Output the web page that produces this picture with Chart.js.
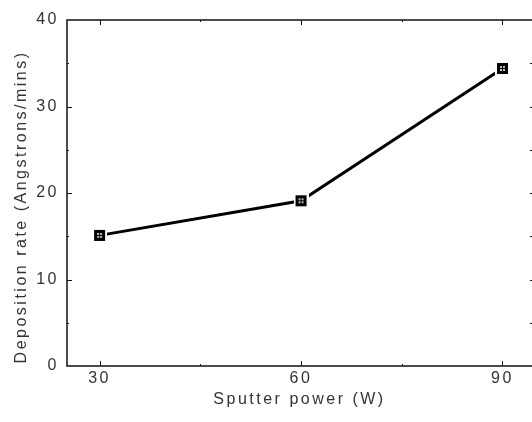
<!DOCTYPE html>
<html>
<head>
<meta charset="utf-8">
<script src="https://cdn.jsdelivr.net/npm/chart.js@4.4.0/dist/chart.umd.min.js"></script>
<style>
  html, body { margin: 0; padding: 0; background: #fff; }
  #wrap { width: 532px; height: 422px; }
</style>
</head>
<body>
<div id="wrap"><canvas id="c" width="532" height="422"></canvas></div>
<script>
// data
const powers = [30, 60, 90];
const rates = [15.1, 19.1, 34.4];
const xTicks = [30, 60, 90];
const xMinor = [45, 75];
const yTicks = [0, 10, 20, 30, 40];
const yMinor = [5, 15, 25, 35];

// square marker: black box, small white dots, white halo around it
function makeMarker() {
    const m = document.createElement('canvas');
    m.width = 15; m.height = 15;
    const g = m.getContext('2d');
    g.fillStyle = '#fff';
    g.fillRect(0, 0, 15, 15);
    g.fillStyle = '#000';
    g.fillRect(2, 2, 11, 11);
    g.fillStyle = '#bbb';
    [[5, 5], [8, 5], [5, 8], [8, 8]].forEach(p => g.fillRect(p[0], p[1], 2, 2));
    return m;
}

const textColor = '#333';

const spacing = {
    id: 'spacing',
    beforeLayout(chart) { chart.ctx.letterSpacing = '2.5px'; },
    beforeDraw(chart) { chart.ctx.letterSpacing = '2.5px'; }
};

// frame and inward ticks
const frame = {
    id: 'frame',
    afterDatasetsDraw(chart) {
        const { ctx, chartArea: a, scales } = chart;
        const x = scales.x, y = scales.y;
        ctx.save();
        ctx.strokeStyle = '#111';
        ctx.lineWidth = 1.5;
        ctx.beginPath();
        ctx.moveTo(a.right + 2, a.top); ctx.lineTo(a.left, a.top);
        ctx.lineTo(a.left, a.bottom); ctx.lineTo(a.right + 2, a.bottom);
        ctx.stroke();
        ctx.lineWidth = 1;
        ctx.beginPath();
        const xt = (v, len) => {
            const px = Math.round(x.getPixelForValue(v)) + 0.5;
            ctx.moveTo(px, a.bottom); ctx.lineTo(px, a.bottom - len);
            ctx.moveTo(px, a.top); ctx.lineTo(px, a.top + len);
        };
        const yt = (v, len) => {
            const py = Math.round(y.getPixelForValue(v)) + 0.5;
            ctx.moveTo(a.left, py); ctx.lineTo(a.left + len, py);
            ctx.moveTo(a.right, py); ctx.lineTo(a.right - Math.min(len, 2), py);
        };
        xTicks.forEach(v => xt(v, 5));
        xMinor.forEach(v => xt(v, 2));
        yTicks.slice(1, -1).forEach(v => yt(v, 5));
        yMinor.forEach(v => yt(v, 2));
        ctx.stroke();
        ctx.restore();
    }
};

const font = { family: '"Liberation Sans", Arial, sans-serif', size: 16 };

new Chart(document.getElementById('c'), {
    type: 'line',
    data: {
        datasets: [{
            data: powers.map((p, i) => ({ x: p, y: rates[i] })),
            borderColor: '#000',
            borderWidth: 3,
            tension: 0,
            pointStyle: makeMarker(),
            pointRadius: 7,
            pointHoverRadius: 7
        }]
    },
    options: {
        responsive: false,
        animation: false,
        events: [],
        layout: { autoPadding: false, padding: { top: 20, right: 0, left: 0, bottom: 0 } },
        plugins: { legend: { display: false }, tooltip: { enabled: false } },
        scales: {
            x: {
                type: 'linear',
                min: 25.15,
                max: 94.4,
                afterBuildTicks(s) { s.ticks = xTicks.map(v => ({ value: v })); },
                afterFit(s) { s.height = 56; s.paddingLeft = 0; s.paddingRight = 0; },
                grid: { display: false, drawTicks: false },
                border: { display: false },
                ticks: { color: textColor, font, padding: 3, maxRotation: 0 },
                title: {
                    display: true,
                    text: 'Sputter power (W)',
                    color: textColor,
                    font,
                    padding: { top: 0, bottom: 13 }
                }
            },
            y: {
                min: 0,
                max: 40,
                afterBuildTicks(s) { s.ticks = yTicks.map(v => ({ value: v })); },
                afterFit(s) { s.width = 67; },
                grid: { display: false, drawTicks: false },
                border: { display: false },
                ticks: { color: textColor, font, padding: 8 },
                title: {
                    display: true,
                    // trailing spaces nudge the title down to where the original sits
                    text: 'Deposition rate (Angstrons/mins)\u00a0\u00a0\u00a0\u00a0',
                    color: textColor,
                    font,
                    padding: { top: 12, bottom: 0 }
                }
            }
        }
    },
    plugins: [spacing, frame]
});
</script>
</body>
</html>
